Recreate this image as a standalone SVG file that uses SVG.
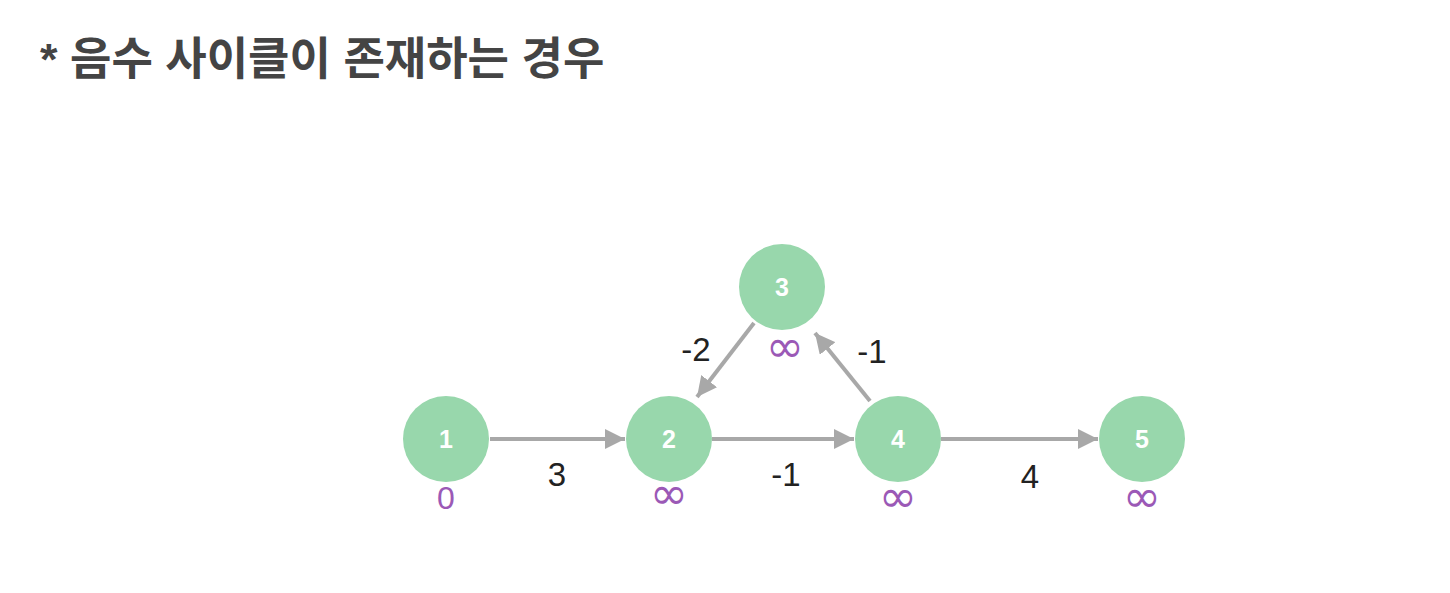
<svg xmlns="http://www.w3.org/2000/svg" width="1450" height="593" viewBox="0 0 1450 593">
<defs>
<style>
.title{font-family:"Liberation Sans","Noto Sans CJK KR",sans-serif;font-weight:bold;font-size:45px;fill:#444}
.node{fill:#98d7ac}
.num{font-family:"Liberation Sans",sans-serif;font-weight:bold;font-size:25px;fill:#fff;text-anchor:middle}
.dist{font-family:"DejaVu Sans",sans-serif;font-size:46px;fill:#9b59b6;text-anchor:middle}
.zero{font-family:"Liberation Sans",sans-serif;font-size:32px;fill:#9b59b6;text-anchor:middle}
.w{font-family:"Liberation Sans",sans-serif;font-size:33px;fill:#222;text-anchor:middle}
.edge{stroke:#a8a8a8;stroke-width:4;fill:none}
</style>
<marker id="ah" viewBox="0 0 10 10" refX="10" refY="5" markerWidth="5" markerHeight="5" markerUnits="strokeWidth" orient="auto">
<path d="M0,0 L10,5 L0,10 z" fill="#a8a8a8"/>
</marker>
</defs>
<rect width="1450" height="593" fill="#fff"/>
<text class="title" x="40" y="75">* 음수 사이클이 존재하는 경우</text>
<g id="connectors">
<line class="edge" x1="490" y1="439" x2="625" y2="439" marker-end="url(#ah)"/>
<line class="edge" x1="712" y1="439" x2="854" y2="439" marker-end="url(#ah)"/>
<line class="edge" x1="941" y1="439" x2="1098" y2="439" marker-end="url(#ah)"/>
<line class="edge" x1="754" y1="323" x2="697" y2="397" marker-end="url(#ah)"/>
<line class="edge" x1="870" y1="401" x2="815" y2="333" marker-end="url(#ah)"/>
<text class="w" x="557" y="486">3</text>
<text class="w" x="786" y="486">-1</text>
<text class="w" x="1030" y="488">4</text>
<text class="w" x="696" y="361">-2</text>
<text class="w" x="872" y="363">-1</text>
</g>
<g id="node1"><circle class="node" cx="446" cy="439" r="43"/><text class="num" x="446" y="448">1</text><text class="zero" x="446" y="509">0</text></g>
<g id="node2"><circle class="node" cx="669" cy="439" r="43"/><text class="num" x="669" y="448">2</text><text class="dist" x="669" y="509">∞</text></g>
<g id="node3"><circle class="node" cx="782" cy="287" r="43"/><text class="num" x="782" y="296">3</text><text class="dist" x="785" y="362">∞</text></g>
<g id="node4"><circle class="node" cx="898" cy="439" r="43"/><text class="num" x="898" y="448">4</text><text class="dist" x="898" y="512">∞</text></g>
<g id="node5"><circle class="node" cx="1142" cy="439" r="43"/><text class="num" x="1142" y="448">5</text><text class="dist" x="1142" y="512">∞</text></g>
</svg>
